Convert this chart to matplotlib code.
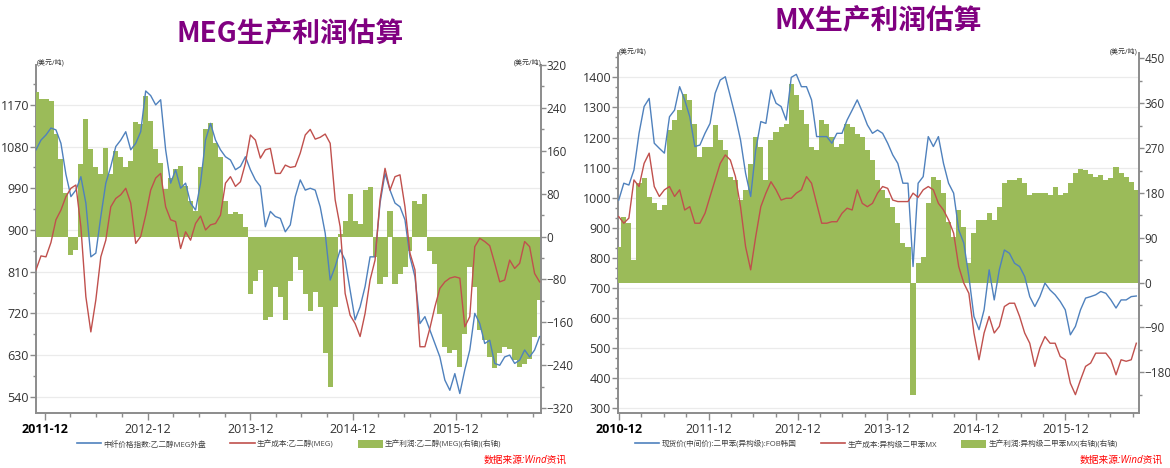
import numpy as np
import pandas as pd
import matplotlib
matplotlib.use('Agg')
import matplotlib.pyplot as plt
import matplotlib.dates as mdates
from matplotlib.ticker import MultipleLocator, AutoMinorLocator
from matplotlib.lines import Line2D
from matplotlib.patches import Patch

plt.rcParams['font.family'] = ['Open Sans', 'Noto Sans CJK SC', 'DejaVu Sans']

# ---------------- data: MEG ----------------
meg_start, meg_end = '2011-10-31', '2016-09-25'
meg_price = [1073, 1094, 1105, 1120, 1116, 1087, 1020, 972, 986, 1015,
             958, 842, 850, 929, 1001, 1037, 1080, 1094, 1112, 1073,
             1087, 1112, 1200, 1190, 1170, 1181, 1073, 1001, 1030, 990,
             1001, 958, 943, 1001, 1094, 1130, 1094, 1073, 1058, 1051,
             1030, 1037, 1058, 1030, 1008, 994, 907, 940, 929, 925,
             896, 911, 972, 1008, 986, 990, 986, 950, 893, 792,
             821, 857, 835, 770, 706, 734, 778, 842, 842, 958,
             1022, 986, 958, 950, 922, 842, 799, 698, 713, 684,
             655, 626, 576, 554, 590, 547, 598, 641, 720, 698,
             655, 662, 612, 608, 626, 630, 612, 619, 641, 626,
             641, 670]
meg_cost = [814, 844, 842, 873, 922, 943, 972, 990, 997, 907,
            756, 680, 749, 842, 878, 950, 968, 976, 990, 958,
            871, 886, 932, 986, 1012, 1022, 950, 922, 918, 860,
            896, 878, 914, 930, 900, 911, 914, 932, 1001, 1015,
            994, 1004, 1044, 1105, 1094, 1055, 1073, 1076, 1022, 1022,
            1040, 1035, 1037, 1066, 1105, 1117, 1096, 1100, 1107, 1087,
            965, 907, 763, 716, 698, 670, 720, 792, 835, 965,
            1033, 986, 1015, 1019, 950, 850, 814, 648, 648, 688,
            734, 774, 788, 796, 799, 796, 691, 713, 864, 882,
            875, 866, 828, 788, 792, 835, 817, 828, 875, 864,
            806, 788]
meg_profit = [270, 256, 256, 253, 191, 144, 82, -35, -25, 135,
              219, 163, 129, 117, 166, 117, 160, 148, 129, 141,
              213, 210, 262, 216, 163, 138, 89, 110, 126, 132,
              95, 67, 48, 129, 200, 211, 175, 148, 67, 42,
              45, 42, 17, -107, -82, -63, -156, -150, -94, -113,
              -156, -82, -38, -63, -107, -138, -104, -131, -218, -280,
              -131, 5, 30, 79, 30, 24, 86, 92, -38, -88,
              -76, 48, -88, -69, -57, -26, 67, 61, 79, -26,
              -51, -144, -206, -218, -212, -243, -181, -57, -94, -175,
              -193, -224, -246, -218, -206, -209, -231, -243, -237, -228,
              -187, -119]
meg_years = ['2011-12', '2012-12', '2013-12', '2014-12', '2015-12']
meg_left_ticks = [540, 630, 720, 810, 900, 990, 1080, 1170]
meg_right_ticks = [-320, -240, -160, -80, 0, 80, 160, 240, 320]
meg_labels = ['中纤价格指数:乙二醇MEG外盘', '生产成本:乙二醇(MEG)',
              '生产利润:乙二醇(MEG)(右轴)(右轴)']

# ---------------- data: MX ----------------
mx_start, mx_end = '2010-11-28', '2016-09-16'
mx_price = [992, 1048, 1042, 1092, 1214, 1303, 1330, 1181, 1164, 1148,
            1269, 1291, 1369, 1325, 1269, 1170, 1175, 1214, 1247, 1347,
            1391, 1402, 1336, 1269, 1192, 1081, 1004, 1159, 1253, 1247,
            1358, 1314, 1303, 1258, 1400, 1410, 1369, 1369, 1325, 1203,
            1203, 1203, 1181, 1214, 1214, 1258, 1291, 1325, 1286, 1242,
            1214, 1225, 1214, 1181, 1142, 1114, 1048, 1048, 771, 1048,
            1070, 1203, 1170, 1203, 1114, 1048, 1015, 893, 849, 738,
            605, 561, 627, 760, 660, 760, 826, 815, 782, 771,
            738, 671, 638, 671, 716, 693, 677, 655, 627, 544,
            572, 627, 666, 671, 677, 688, 682, 660, 633, 660,
            660, 671, 673]
mx_cost = [937, 915, 932, 1059, 1037, 1114, 1148, 1037, 1004, 1026,
           1037, 1004, 1026, 959, 970, 915, 915, 948, 1004, 1059,
           1114, 1142, 1125, 1070, 970, 837, 760, 871, 970, 1015,
           1053, 1026, 992, 998, 998, 1015, 1026, 1070, 1048, 981,
           915, 915, 920, 920, 948, 965, 959, 1026, 981, 970,
           981, 1015, 1037, 1031, 992, 987, 987, 987, 1015, 1001,
           1026, 1037, 1026, 981, 959, 926, 882, 771, 716, 682,
           550, 461, 550, 605, 550, 572, 638, 649, 649, 605,
           550, 516, 439, 500, 538, 516, 516, 472, 461, 383,
           345, 394, 439, 450, 483, 483, 483, 461, 411, 461,
           456, 461, 516]
mx_profit = [72, 132, 119, 45, 199, 209, 172, 159, 146, 155,
             306, 326, 346, 379, 366, 319, 253, 273, 273, 316,
             286, 266, 212, 206, 166, 186, 239, 293, 273, 206,
             286, 303, 313, 319, 399, 376, 346, 319, 273, 266,
             326, 319, 293, 273, 279, 319, 313, 299, 293, 266,
             246, 206, 186, 169, 152, 119, 79, 72, -225, 39,
             52, 159, 212, 206, 179, 122, 92, 146, 112, 39,
             99, 126, 126, 139, 126, 152, 199, 206, 206, 209,
             199, 176, 179, 179, 179, 176, 192, 176, 179, 199,
             219, 229, 226, 217, 212, 216, 206, 209, 232, 219,
             212, 202, 186]
mx_years = ['2010-12', '2011-12', '2012-12', '2013-12', '2014-12', '2015-12']
mx_left_ticks = [300, 400, 500, 600, 700, 800, 900, 1000, 1100, 1200, 1300, 1400]
mx_right_ticks = [-180, -90, 0, 90, 180, 270, 360, 450]
mx_labels = ['现货价(中间价):二甲苯(异构级):FOB韩国', '生产成本:异构级二甲苯MX',
             '生产利润:异构级二甲苯MX(右轴)(右轴)']

BLUE = '#4F81BD'
RED = '#C0504D'
GREEN = '#9BBB59'
SPINE = '#8C8C8C'
TXT = '#333333'

fig = plt.figure(figsize=(11.7, 4.68), dpi=100)
W, H = 1170.0, 468.0


def panel(px_left, px_right, px_top, px_bottom, start, end, price, cost, profit,
          years, lticks, rticks, lylim, rylim, xlim, lminor, rminor):
    rect = [px_left / W, 1 - px_bottom / H, (px_right - px_left) / W, (px_bottom - px_top) / H]
    ax = fig.add_axes(rect)
    axb = ax.twinx()
    axl = ax.twinx()
    d = pd.date_range(start, end, periods=len(price))
    x = mdates.date2num(d.to_pydatetime())
    step = x[1] - x[0]
    axb.bar(x, profit, width=step * 1.02, color=GREEN, linewidth=0, align='center')
    axl.plot(x, price, color=BLUE, lw=1.0)
    axl.plot(x, cost, color=RED, lw=1.0)
    xl = mdates.date2num([pd.Timestamp(xlim[0]).to_pydatetime(), pd.Timestamp(xlim[1]).to_pydatetime()])
    for a in (ax, axb, axl):
        a.set_xlim(xl)
    ax.set_ylim(lylim)
    axl.set_ylim(lylim)
    axb.set_ylim(rylim)
    axl.axis('off')
    # grid
    ax.set_yticks(lticks)
    ax.yaxis.set_minor_locator(AutoMinorLocator(lminor))
    ax.yaxis.grid(True, color='#EBEBEB', lw=0.9)
    ax.set_axisbelow(True)
    axb.set_yticks(rticks)
    axb.yaxis.set_minor_locator(AutoMinorLocator(rminor))
    # x ticks
    major = mdates.date2num([pd.Timestamp(y + '-01').to_pydatetime() for y in years])
    ax.set_xticks(major, years)
    ax.xaxis.set_minor_locator(mdates.MonthLocator(bymonth=[3, 6, 9]))
    for lab in ax.get_xticklabels():
        lab.set_color(TXT)
    ax.get_xticklabels()[0].set_fontweight('bold')
    ax.get_xticklabels()[0].set_color('black')
    ax.tick_params(axis='x', which='major', length=5, width=1, color=SPINE, labelsize=9, pad=2)
    ax.tick_params(axis='x', which='minor', length=3, width=1, color=SPINE)
    ax.tick_params(axis='y', which='major', length=4, width=1, color=SPINE, labelsize=9,
                   labelcolor=TXT, pad=1)
    ax.tick_params(axis='y', which='minor', length=2.5, width=1, color=SPINE)
    axb.tick_params(axis='y', which='major', length=3.5, width=1, color=SPINE, labelsize=8.5,
                    labelcolor=TXT, pad=0.5)
    axb.tick_params(axis='y', which='minor', length=2.5, width=1, color=SPINE)
    for s in ('top', 'right'):
        ax.spines[s].set_visible(False)
    for s in ('left', 'bottom'):
        ax.spines[s].set_color(SPINE)
        ax.spines[s].set_linewidth(1.4)
    for s in ('top', 'left', 'bottom'):
        axb.spines[s].set_visible(False)
    axb.spines['right'].set_color(SPINE)
    axb.spines['right'].set_linewidth(1.4)
    return ax


panel(36, 541, 65, 413, meg_start, meg_end, meg_price, meg_cost, meg_profit,
      meg_years, meg_left_ticks, meg_right_ticks, (505, 1256), (-329, 320),
      ('2011-10-31', '2016-09-30'), 2, 2)
panel(618, 1139, 53, 413, mx_start, mx_end, mx_price, mx_cost, mx_profit,
      mx_years, mx_left_ticks, mx_right_ticks, (284, 1481), (-262, 461),
      ('2010-11-25', '2016-09-27'), 3, 2)

# titles
fig.text(290 / W, 1 - 33 / H, 'MEG生产利润估算', color='#800080', fontsize=20,
         fontweight='bold', family=['Noto Sans CJK SC'], ha='center', va='center')
fig.text(878 / W, 1 - 20 / H, 'MX生产利润估算', color='#800080', fontsize=20,
         fontweight='bold', family=['Noto Sans CJK SC'], ha='center', va='center')

# unit labels
unit = '(美元/吨)'
for xp, yp, ha in [(37, 63, 'left'), (541, 63, 'right'), (619, 52, 'left'), (1138, 52, 'right')]:
    fig.text(xp / W, 1 - yp / H, unit, fontsize=5, color=TXT, ha=ha, va='center')

# legends
def legend(labels, cx):
    handles = [Line2D([], [], color=BLUE, lw=1.2), Line2D([], [], color=RED, lw=1.2),
               Patch(facecolor=GREEN, edgecolor='none')]
    leg = fig.legend(handles, labels, loc='center', bbox_to_anchor=(cx / W, 1 - 444 / H),
                     ncol=3, frameon=False, fontsize=5.5, handlelength=3.2, handleheight=1.4,
                     columnspacing=3.2, handletextpad=0.3)
    for t in leg.get_texts():
        t.set_color('#404040')

legend(meg_labels, 289)
legend(mx_labels, 876)

# source
for cx in (525, 1121):
    fig.text(cx / W, 1 - 460 / H, '数据来源:Wind资讯', color='#FF0000', fontsize=7,
             style='italic', ha='center', va='center')

fig.savefig('out.png', dpi=100)
